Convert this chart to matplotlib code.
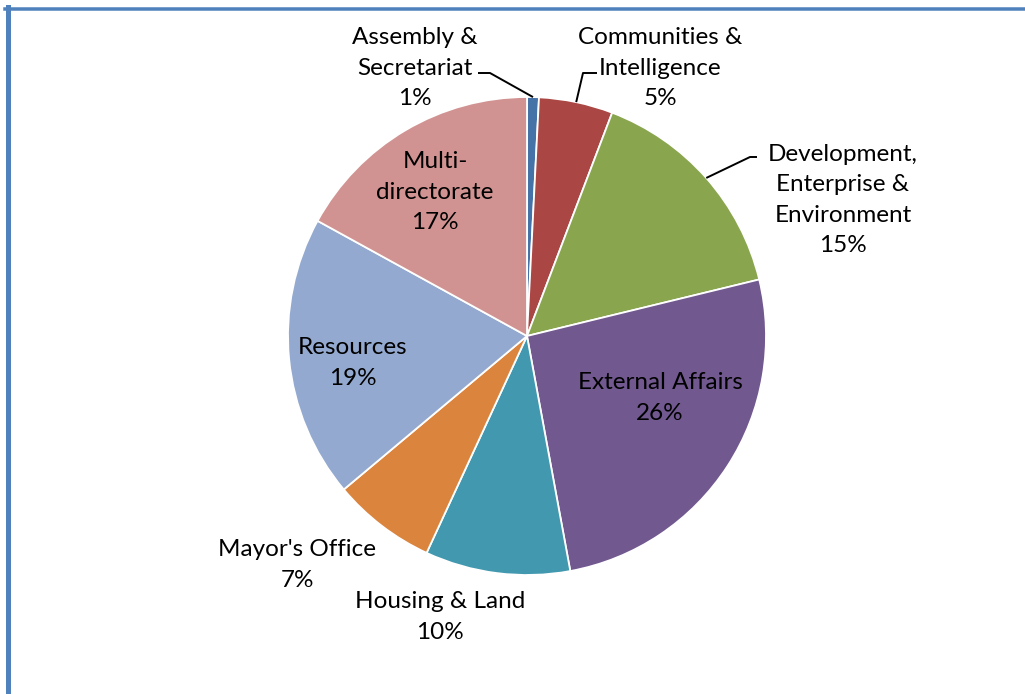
import numpy as np
import matplotlib.pyplot as plt
from matplotlib.lines import Line2D

plt.rcParams['font.family'] = ['Lato', 'DejaVu Sans']

# data, clockwise from 12 o'clock
names = ['Assembly &\nSecretariat', 'Communities &\nIntelligence',
         'Development,\nEnterprise &\nEnvironment', 'External Affairs',
         'Housing & Land', "Mayor's Office", 'Resources', 'Multi-\ndirectorate']
shares = [0.8, 5.0, 15.4, 25.9, 9.8, 7.0, 19.1, 17.0]
colors = ['#4572A7', '#AA4643', '#89A54E', '#71588F',
          '#4198AF', '#DB843D', '#93A9CF', '#D19392']

W, H = 1025, 694
fig = plt.figure(figsize=(W / 100, H / 100), dpi=100)
ax = fig.add_axes([0, 0, 1, 1])

cx, cy, r = 527, H - 336, 239
wedges, _ = ax.pie(shares, colors=colors, startangle=90, counterclock=False,
                   center=(cx, cy), radius=r, frame=True,
                   wedgeprops=dict(edgecolor='white', linewidth=1.3))
ax.set_xlim(0, W)
ax.set_ylim(0, H)
ax.axis('off')

# label placement in pixel coords (x, y from top), with optional leader elbow
place = [
    (415, 68, (478, 73), (490, 73)),
    (660, 68, (597, 73), (583, 73)),
    (843, 200, (757, 157), (750, 157)),
    (660, 398, None, None),
    (440, 617, None, None),
    (297, 565, None, None),
    (353, 363, None, None),
    (435, 192, None, None),
]

for w, name, val, (tx, ty, p0, p1) in zip(wedges, names, shares, place):
    ax.text(tx, H - ty, f'{name}\n{round(val)}%', ha='center', va='center',
            fontsize=17.5, color='black', linespacing=1.56)
    if p0 is not None:
        mid = np.deg2rad((w.theta1 + w.theta2) / 2)
        ex, ey = cx + r * np.cos(mid), cy + r * np.sin(mid)
        ax.plot([p0[0], p1[0], ex], [H - p0[1], H - p1[1], ey],
                color='black', lw=1.4, solid_capstyle='butt')

# chart border (left and top visible)
fig.add_artist(Line2D([7.5 / W, 7.5 / W], [0, 1 - 7 / H], transform=fig.transFigure,
                      color='#4F81BD', lw=5 * 0.72))
fig.add_artist(Line2D([5 / W, 1], [1 - 8.5 / H, 1 - 8.5 / H], transform=fig.transFigure,
                      color='#4F81BD', lw=3.5 * 0.72))

fig.savefig('out.png', dpi=100)
